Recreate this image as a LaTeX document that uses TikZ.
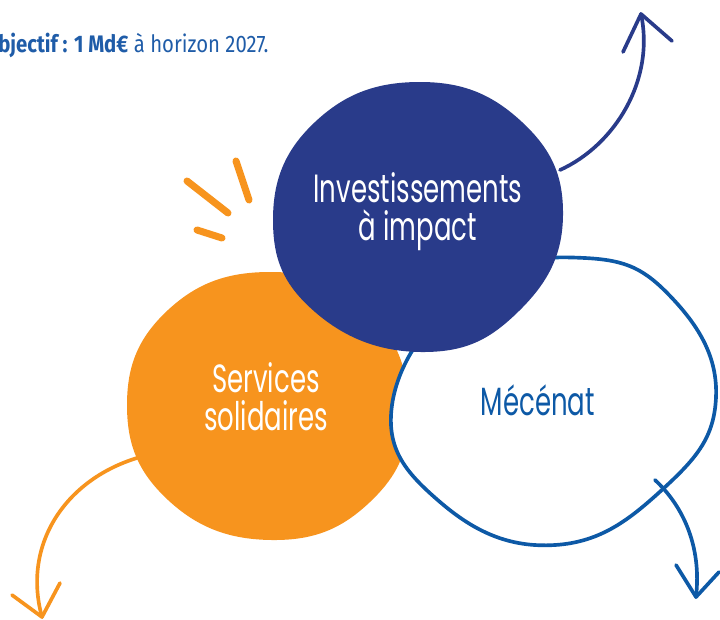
\documentclass[tikz,border=0pt]{standalone}
\usepackage{fontspec}
\setmainfont{Fira Sans}
\newfontfamily\handfont[FakeStretch=0.66]{Poppins}
\newfontfamily\headfont[FakeStretch=0.85]{Fira Sans}
\definecolor{navy}{RGB}{41,59,138}
\definecolor{fondorange}{RGB}{247,148,30}
\definecolor{mecblue}{RGB}{13,89,166}
\definecolor{textblue}{RGB}{31,92,168}

\begin{document}
\begin{tikzpicture}[x=0.025cm,y=-0.025cm,
  bulle/.style={font=\handfont\fontsize{28}{27}\selectfont,align=center},
  fleche/.style={line width=2.6pt,line cap=round,line join=round},
  trait/.style={line width=5pt,line cap=round,fondorange}]

\useasboundingbox (0,0) rectangle (720,619);

\node[anchor=base west,text=textblue,inner sep=0,font=\headfont\fontsize{17}{20}\selectfont] (objectif) at (-16,52) {\textbf{Objectif : 1 Md€} à horizon 2027.};

\fill[fondorange] plot[smooth cycle,tension=0.75] coordinates {(409,410) (368,310) (270,272) (168,310) (127,405) (168,500) (272,540) (370,502)};
\filldraw[fill=white,draw=mecblue,line width=2.6pt] plot[smooth cycle,tension=0.75] coordinates {(716,397) (672,298) (585,258) (470,288) (392,405) (440,502) (555,545) (664,488)};
\fill[navy] plot[smooth cycle,tension=0.75] coordinates {(563,215) (522,122) (420,82) (315,122) (273,220) (315,312) (425,352) (520,310)};

\node[bulle,white] (invest) at (418,212) {Investissements\\à impact};
\node[bulle,white] (services) at (266,397) {Services\\solidaires};
\node[bulle,mecblue] (mecenat) at (538,400) {Mécénat};

\draw[trait] (187,181) -- (228,213);
\draw[trait] (236,161) -- (249,200);
\draw[trait] (197,230) -- (222,238);

\coordinate (navyfrom) at (560,170);
\coordinate (navyto) at (641,14);
\coordinate (orangefrom) at (137,458);
\coordinate (orangeto) at (42,617);
\coordinate (bluefrom) at (655,480);
\coordinate (blueto) at (696,597);

\draw[fleche,navy] (navyfrom) .. controls (615,145) and (655,80) .. (navyto);
\draw[fleche,navy] (623,52) -- (navyto) -- (672,41);
\draw[fleche,fondorange] (orangefrom) .. controls (65,480) and (22,545) .. (orangeto);
\draw[fleche,fondorange] (12,595) -- (orangeto) -- (60,583);
\draw[fleche,mecblue] (bluefrom) .. controls (682,505) and (702,545) .. (blueto);
\draw[fleche,mecblue] (676,565) -- (blueto) -- (719,572);
\end{tikzpicture}
\end{document}
